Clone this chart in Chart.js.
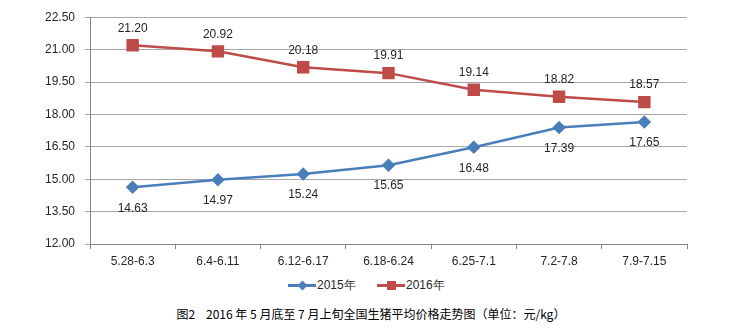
<!DOCTYPE html>
<html>
<head>
<meta charset="utf-8">
<script src="https://cdn.jsdelivr.net/npm/chart.js@4"></script>
<style>
  html, body { margin:0; padding:0; background:#fff; }
  #wrap { position:relative; width:742px; height:329px; font-family:"Liberation Sans", Arial, sans-serif; }
  #box { position:absolute; left:0; top:0; width:742px; height:270px; }
  .legend { position:absolute; top:277px; height:16px; font-size:12px; color:#262626; display:flex; align-items:center; }
  .legend .ln { position:relative; width:28px; height:3px; margin-right:1px; }
  .legend .mk { position:absolute; left:50%; top:50%; }
  #title { position:absolute; top:305px; left:0; width:742px; text-align:center;
           font-family:"Noto Sans CJK SC", sans-serif; font-size:12px; color:#000; white-space:pre; }
</style>
</head>
<body>
<div id="wrap">
  <div id="box"><canvas id="priceChart"></canvas></div>
  <div id="legend"></div>
  <div id="title">图2    2016 年 5 月底至 7 月上旬全国生猪平均价格走势图（单位：元/kg）</div>
</div>
<script>
const weeks = ['5.28-6.3', '6.4-6.11', '6.12-6.17', '6.18-6.24', '6.25-7.1', '7.2-7.8', '7.9-7.15'];
const price2015 = [14.63, 14.97, 15.24, 15.65, 16.48, 17.39, 17.65];
const price2016 = [21.20, 20.92, 20.18, 19.91, 19.14, 18.82, 18.57];
const yTicks = [12.00, 13.50, 15.00, 16.50, 18.00, 19.50, 21.00, 22.50];

const BLUE = '#4a7ebb', RED = '#be4b48';

// value labels: 2016 above its points, 2015 below
const valueLabels = {
  id: 'valueLabels',
  afterDatasetsDraw(chart) {
    const ctx = chart.ctx;
    ctx.save();
    ctx.font = '12px "Liberation Sans", Arial, sans-serif';
    ctx.fillStyle = '#262626';
    ctx.textAlign = 'center';
    ctx.textBaseline = 'middle';
    chart.data.datasets.forEach((ds, i) => {
      const meta = chart.getDatasetMeta(i);
      meta.data.forEach((pt, j) => {
        const dy = ds.labelPos === 'above' ? -17 : 21;
        ctx.fillText(ds.data[j].toFixed(2), pt.x, pt.y + dy);
      });
    });
    ctx.restore();
  }
};

new Chart(document.getElementById('priceChart'), {
  type: 'line',
  data: {
    labels: weeks,
    datasets: [
      { label: '2015年', data: price2015, borderColor: BLUE, backgroundColor: BLUE,
        borderWidth: 2.5, pointStyle: 'rectRot', pointRadius: 5, pointHoverRadius: 5,
        labelPos: 'below', tension: 0 },
      { label: '2016年', data: price2016, borderColor: RED, backgroundColor: RED,
        borderWidth: 2.5, pointStyle: 'rect', pointRadius: 7, pointHoverRadius: 7,
        labelPos: 'above', tension: 0 }
    ]
  },
  options: {
    responsive: true,
    maintainAspectRatio: false,
    animation: false,
    layout: { padding: { top: 10, right: 55, left: 0, bottom: 0 } },
    plugins: { legend: { display: false }, tooltip: { enabled: false } },
    scales: {
      x: {
        offset: true,
        grid: { offset: true, drawOnChartArea: false, drawTicks: true, tickLength: 5, color: '#868686' },
        border: { color: '#868686', width: 1 },
        ticks: { color: '#262626', font: { size: 12, family: '"Liberation Sans", Arial, sans-serif' },
                 padding: 5, maxRotation: 0, autoSkip: false },
        afterFit(s) { s.height = 26; }
      },
      y: {
        min: 12, max: 22.5,
        afterBuildTicks(s) { s.ticks = yTicks.map(v => ({ value: v })); },
        grid: { color: '#a6a6a6', lineWidth: 1, tickLength: 5 },
        border: { color: '#868686', width: 1 },
        ticks: { color: '#262626', font: { size: 12, family: '"Liberation Sans", Arial, sans-serif' },
                 padding: 10, callback: v => Number(v).toFixed(2) },
        afterFit(s) { s.width = 90; }
      }
    }
  },
  plugins: [valueLabels]
});

// legend below the plot
const legendItems = [
  { text: '2015年', color: BLUE, left: 288, marker: 'width:7px;height:7px;margin:-3.5px 0 0 -3.5px;transform:rotate(45deg);' },
  { text: '2016年', color: RED, left: 377, marker: 'width:9px;height:9px;margin:-4.5px 0 0 -4.5px;' }
];
document.getElementById('legend').innerHTML = legendItems.map(it => `
  <div class="legend" style="left:${it.left}px">
    <span class="ln" style="background:${it.color}"><span class="mk" style="background:${it.color};${it.marker}"></span></span>
    <span>${it.text}</span>
  </div>`).join('');
</script>
</body>
</html>
